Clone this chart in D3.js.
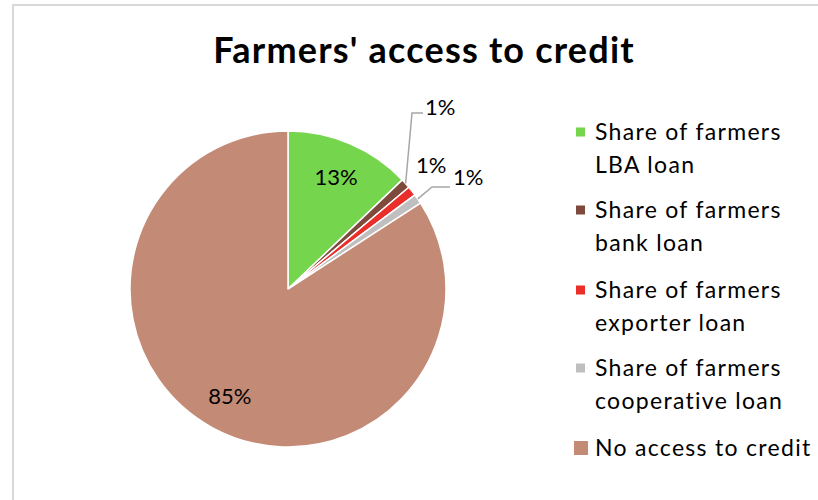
<!DOCTYPE html>
<html>
<head>
<meta charset="utf-8">
<script src="https://cdn.jsdelivr.net/npm/d3@7"></script>
<style>
  html, body { margin: 0; padding: 0; background: #fff; }
  svg { display: block; }
</style>
</head>
<body>
<svg id="chart" width="818" height="500"></svg>
<script>
// Farmers' access to credit — share of farmers by credit source (%)
const categories = [
  "Share of farmers LBA loan",
  "Share of farmers bank loan",
  "Share of farmers exporter loan",
  "Share of farmers cooperative loan",
  "No access to credit"
];
const legendLines = [
  ["Share of farmers", "LBA loan"],
  ["Share of farmers", "bank loan"],
  ["Share of farmers", "exporter loan"],
  ["Share of farmers", "cooperative loan"],
  ["No access to credit"]
];
const values = [13, 1, 1, 1, 85];
const colors = ["#75d54c", "#7d4a3b", "#ea2f2b", "#bfbfbf", "#c38a76"];

const font = "Lato, 'Noto Sans', sans-serif";
const svg = d3.select("#chart");

// chart frame
svg.append("path")
  .attr("d", "M13,510 L13,5 L830,5")
  .attr("fill", "none")
  .attr("stroke", "#d9d9d9")
  .attr("stroke-width", 2);

// title
svg.append("text")
  .attr("x", 424).attr("y", 63)
  .attr("text-anchor", "middle")
  .attr("font-family", font)
  .attr("font-weight", 700)
  .attr("font-size", 36)
  .attr("letter-spacing", 1.2)
  .attr("fill", "#000")
  .text("Farmers' access to credit");

// pie
const cx = 288, cy = 289, R = 158;
const pie = d3.pie().value(d => d).sort(null);
const arcs = pie(values);
const arc = d3.arc().innerRadius(0).outerRadius(R);
const g = svg.append("g").attr("transform", `translate(${cx},${cy})`);

g.selectAll("path.slice")
  .data(arcs)
  .join("path")
  .attr("class", "slice")
  .attr("d", arc)
  .attr("fill", (d, i) => colors[i])
  .attr("stroke", "#fff")
  .attr("stroke-width", 1.5)
  .attr("stroke-linejoin", "round");

// data labels
const fmt = v => v + "%";
const inner = d3.arc().innerRadius(122).outerRadius(122);
const edge = d3.arc().innerRadius(R).outerRadius(R);

// label placement for each slice: inside, free outside, or outside with leader
const labelSpec = [
  { mode: "inside" },
  { mode: "leader", bend: [124, -176], end: [135, -176], text: [137, -174] },
  { mode: "free", text: [128, -116] },
  { mode: "leader", bend: [144, -102], end: [162, -102], text: [165, -104] },
  { mode: "inside" }
];

const labelFont = 22;
arcs.forEach((d, i) => {
  const s = labelSpec[i];
  if (s.mode === "inside") {
    const [x, y] = inner.centroid(d);
    g.append("text")
      .attr("x", x).attr("y", y)
      .attr("dy", "0.35em")
      .attr("text-anchor", "middle")
      .attr("font-family", font)
      .attr("font-size", labelFont)
      .attr("fill", "#000")
      .text(fmt(values[i]));
  } else {
    if (s.mode === "leader") {
      const p = edge.centroid(d);
      g.append("polyline")
        .attr("points", [p, s.bend, s.end].map(q => q.join(",")).join(" "))
        .attr("fill", "none")
        .attr("stroke", "#a6a6a6")
        .attr("stroke-width", 1.5);
    }
    g.append("text")
      .attr("x", s.text[0]).attr("y", s.text[1])
      .attr("font-family", font)
      .attr("font-size", labelFont)
      .attr("fill", "#000")
      .text(fmt(values[i]));
  }
});

// legend
const legend = svg.append("g");
const itemTop = [132, 210, 290, 368, 448];
categories.forEach((c, i) => {
  const big = legendLines[i].length === 1;
  const sz = big ? 14 : 9;
  legend.append("rect")
    .attr("x", big ? 574 : 576)
    .attr("y", itemTop[i] - sz / 2)
    .attr("width", sz).attr("height", sz)
    .attr("fill", colors[i]);
  const t = legend.append("text")
    .attr("font-family", font)
    .attr("font-size", 23)
    .attr("letter-spacing", 1.3)
    .attr("fill", "#000");
  legendLines[i].forEach((line, j) => {
    t.append("tspan")
      .attr("x", 595)
      .attr("y", itemTop[i] + 8 + j * 33)
      .text(line);
  });
});
</script>
</body>
</html>
